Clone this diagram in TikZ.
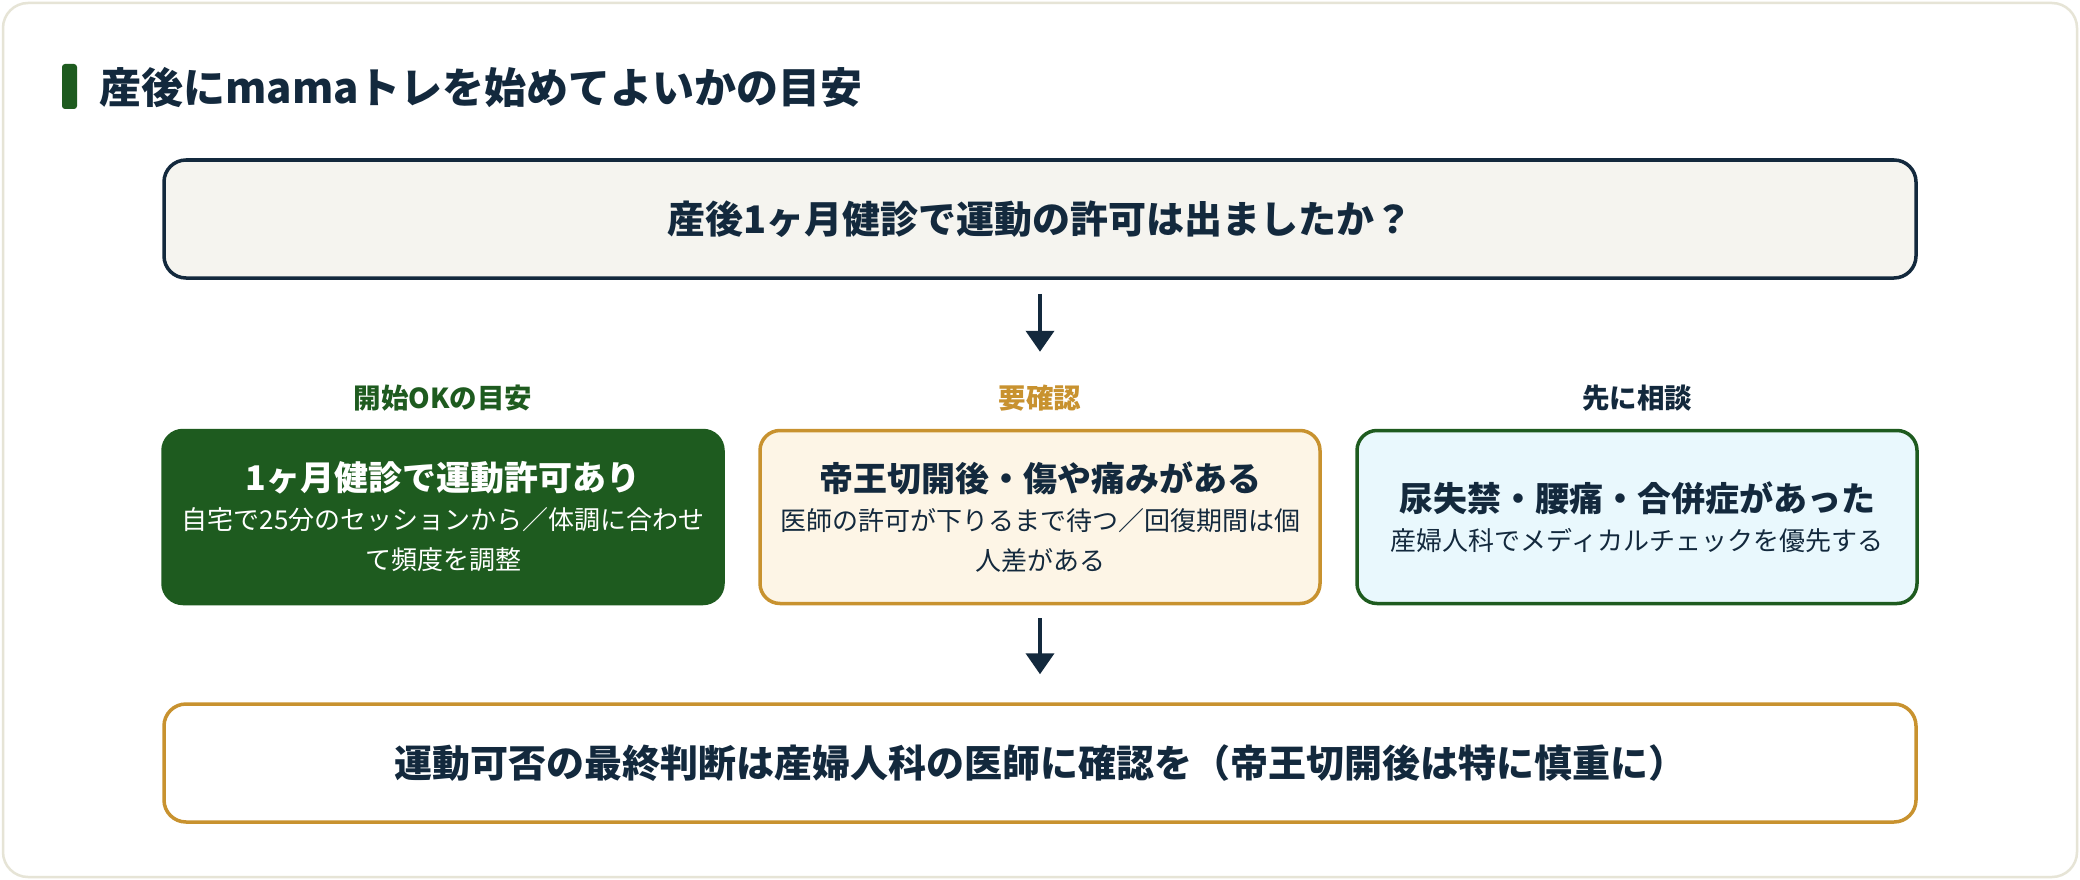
\documentclass[tikz,border=0pt]{standalone}
\usepackage{fontspec}
\setmainfont{Noto Sans CJK JP}
\usetikzlibrary{arrows.meta}
\definecolor{blunotte}{HTML}{13293D}
\definecolor{verde}{HTML}{1E5B1F}
\definecolor{oro}{HTML}{C8922F}
\definecolor{crema}{HTML}{FDF5E6}
\definecolor{ghiaccio}{HTML}{E9F8FD}
\definecolor{carta}{HTML}{F5F4EF}
\definecolor{bordino}{HTML}{E6E4D6}
\newcommand{\titolo}[1]{{\fontsize{34}{40}\selectfont\bfseries #1}\\[-1pt]}
\begin{document}
\begin{tikzpicture}[x=1pt,y=-1pt,>={Triangle[length=21pt,width=28pt]},
		scatola/.style={draw=blunotte, line width=3.5pt, rounded corners=22pt, align=center, text=blunotte, minimum height=118pt, minimum width=1752pt},
		caso/.style={draw, line width=3.5pt, rounded corners=20pt, align=center, text=blunotte, text width=540pt, minimum height=173pt, minimum width=560pt, inner sep=0pt, font=\fontsize{26}{40}\selectfont},
		etichetta/.style={font=\fontsize{27.5}{32}\selectfont\bfseries},
		freccia/.style={->, line width=4pt, draw=blunotte}]
			%%%	Sfondo
			\useasboundingbox (0,0) rectangle (2080,880);
			\fill[white] (0,0) rectangle (2080,880);
			\draw[bordino, line width=2.5pt, rounded corners=25pt, fill=white] (3,3) rectangle (2077,877);
			%%%	Titolo
			\fill[verde, rounded corners=3pt] (62,64) rectangle (77,109);
			\node[anchor=west, text=blunotte, font=\fontsize{42}{50}\selectfont\bfseries, inner sep=0pt] (titolo) at (99,88) {産後にmamaトレを始めてよいかの目安};
			%%%	Domanda
			\node[scatola, fill=carta, font=\fontsize{38}{44}\selectfont\bfseries] (domanda) at (1040,219) {産後1ヶ月健診で運動の許可は出ましたか？};
			%%%	Tre casi
			\node[etichetta, text=verde] (etok) at (443,398) {開始OKの目安};
			\node[etichetta, text=oro] (etconf) at (1040,398) {要確認};
			\node[etichetta, text=blunotte] (etcons) at (1637,398) {先に相談};
			\node[caso, fill=verde, draw=verde, text=white] (ok) at (443,517) {\titolo{1ヶ月健診で運動許可あり}自宅で25分のセッションから／体調に合わせ\\て頻度を調整};
			\node[caso, fill=crema, draw=oro] (conferma) at (1040,517) {\titolo{帝王切開後・傷や痛みがある}医師の許可が下りるまで待つ／回復期間は個\\人差がある};
			\node[caso, fill=ghiaccio, draw=verde] (consulto) at (1637,517) {\titolo{尿失禁・腰痛・合併症があった}産婦人科でメディカルチェックを優先する};
			%%%	Conclusione
			\node[scatola, fill=white, draw=oro, font=\fontsize{38}{44}\selectfont\bfseries] (finale) at (1040,763) {運動可否の最終判断は産婦人科の医師に確認を（帝王切開後は特に慎重に）};
			%%%	Frecce
			\draw[freccia, shorten <=14pt, shorten >=77pt] (domanda.south) -- (conferma.north);
			\draw[freccia, shorten <=13pt, shorten >=28pt] (conferma.south) -- (finale.north);
		\end{tikzpicture}
\end{document}
